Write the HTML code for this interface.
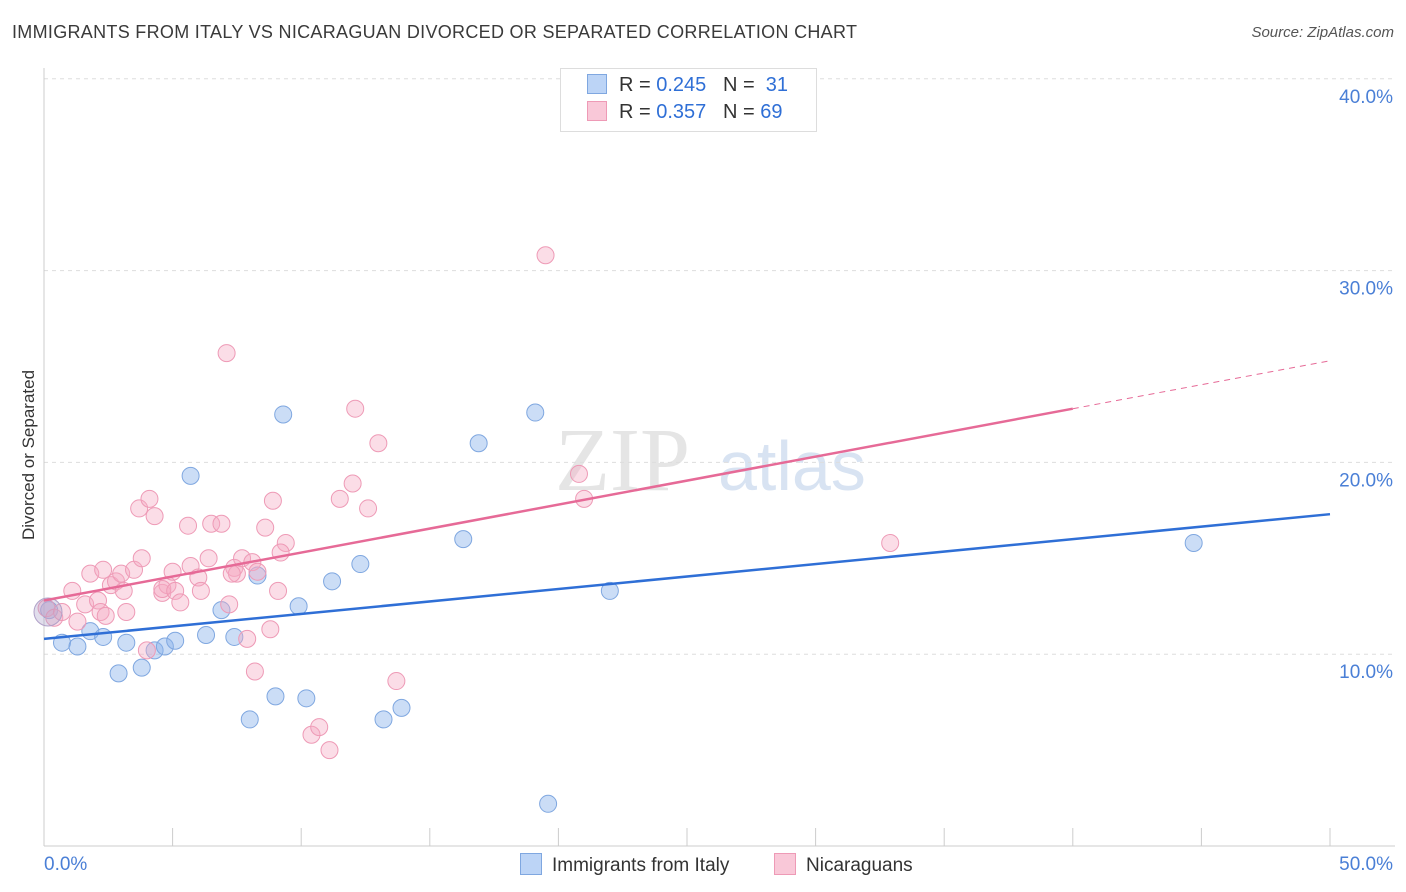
<!DOCTYPE html>
<html><head><meta charset="utf-8">
<style>
body{margin:0;background:#fff;font-family:"Liberation Sans",sans-serif;}
#wrap{position:relative;width:1406px;height:892px;overflow:hidden}
.t{position:absolute;white-space:nowrap}
</style></head>
<body>
<div id="wrap">
<div class="t" style="left:12px;top:22px;font-size:18px;color:#3a3a3a;letter-spacing:0.3px">IMMIGRANTS FROM ITALY VS NICARAGUAN DIVORCED OR SEPARATED CORRELATION CHART</div>
<div class="t" style="right:12px;top:24px;font-size:15px;color:#555;font-style:italic">Source: ZipAtlas.com</div>
<svg id="svg" width="1406" height="892" style="position:absolute;left:0;top:0"></svg>
</div>
<script>
const yTicks=[10,20,30,40];
const xTickLabels=["0.0%","50.0%"];
const italyX=[0.2,0.7,1.3,1.8,2.3,2.9,3.2,3.8,4.3,4.7,5.1,5.7,6.3,6.9,7.4,8.0,8.3,9.0,9.3,9.9,10.2,11.2,12.3,13.2,13.9,16.3,16.9,19.1,19.6,22.0,44.7];
const italyY=[12.3,10.6,10.4,11.2,10.9,9.0,10.6,9.3,10.2,10.4,10.7,19.3,11.0,12.3,10.9,6.6,14.1,7.8,22.5,12.5,7.7,13.8,14.7,6.6,7.2,16.0,21.0,22.6,2.2,13.3,15.8];
const nicX=[0.1,0.4,0.7,1.1,1.3,1.6,1.8,2.1,2.2,2.3,2.6,2.4,2.8,3.0,3.1,3.2,3.5,3.7,3.8,4.0,4.1,4.3,4.6,4.8,4.6,5.0,5.1,5.3,5.6,5.7,6.0,6.1,6.4,6.5,6.9,7.1,7.2,7.4,7.5,7.7,7.3,7.9,8.1,8.2,8.6,8.8,8.3,8.9,9.1,9.4,9.2,10.4,10.7,11.1,11.5,12.0,12.1,12.6,13.0,13.7,19.5,20.8,21.0,32.9];
const nicY=[12.4,11.9,12.2,13.3,11.7,12.6,14.2,12.8,12.2,14.4,13.6,12.0,13.8,14.2,13.3,12.2,14.4,17.6,15.0,10.2,18.1,17.2,13.2,13.6,13.4,14.3,13.3,12.7,16.7,14.6,14.0,13.3,15.0,16.8,16.8,25.7,12.6,14.5,14.2,15.0,14.2,10.8,14.8,9.1,16.6,11.3,14.3,18.0,13.3,15.8,15.3,5.8,6.2,5.0,18.1,18.9,22.8,17.6,21.0,8.6,30.8,19.4,18.1,15.8];
const svg=document.getElementById('svg');const NS='http://www.w3.org/2000/svg';
const X0=44,X1=1330,Y0=846,PY=19.18;
const sx=v=>X0+(X1-X0)*v/50, sy=v=>Y0-v*PY;
function mk(tag,attrs,name){const e=document.createElementNS(NS,tag);for(const k in attrs)e.setAttribute(k,attrs[k]);


svg.appendChild(e);return e;}
let w=mk('text',{x:555,y:490,'font-size':90,fill:'#e5e5e5','font-family':'Liberation Serif'},'watermark');w.textContent='ZIP';
w=mk('text',{x:718,y:490,'font-size':70,fill:'#d8e3f2','font-family':'Liberation Sans'},'watermark-atlas');w.textContent='atlas';
yTicks.forEach(t=>{mk('line',{x1:X0,x2:1395,y1:sy(t),y2:sy(t),stroke:'#ddd','stroke-dasharray':'4,4'},'grid-line');
const tx=mk('text',{x:1393,y:sy(t)+24,'text-anchor':'end','font-size':19,fill:'#4a7fd6'},'y-tick-label');tx.textContent=t.toFixed(1)+'%';});
mk('line',{x1:X0,x2:X0,y1:68,y2:Y0,stroke:'#ccc'},'y-axis');
mk('line',{x1:X0,x2:1395,y1:Y0,y2:Y0,stroke:'#ccc'},'x-axis');
for(let i=0;i<=10;i++){mk('line',{x1:sx(i*5),x2:sx(i*5),y1:Y0,y2:Y0-18,stroke:'#ccc'},'x-tick');}
let l=mk('text',{x:44,y:870,'font-size':19,fill:'#4a7fd6'},'x-tick-label');l.textContent=xTickLabels[0];
l=mk('text',{x:1393,y:870,'text-anchor':'end','font-size':19,fill:'#4a7fd6'},'x-tick-label');l.textContent=xTickLabels[1];
l=mk('text',{x:0,y:0,'font-size':17,fill:'#333',transform:'translate(34,455) rotate(-90)','text-anchor':'middle'},'y-axis-title');l.textContent='Divorced or Separated';
italyX.forEach((v,i)=>mk('circle',{cx:sx(v),cy:sy(italyY[i]),r:8.5,fill:'rgba(140,180,235,0.45)',stroke:'#7fa7e0','stroke-width':1},'italy-point'));
nicX.forEach((v,i)=>mk('circle',{cx:sx(v),cy:sy(nicY[i]),r:8.5,fill:'rgba(245,170,195,0.4)',stroke:'#ee9ab6','stroke-width':1},'nicaraguan-point'));
mk('circle',{cx:48,cy:612,r:14,fill:'rgba(170,160,200,0.35)',stroke:'#b0a0c8'},'cluster-point');
mk('line',{x1:sx(0),y1:sy(10.8),x2:sx(50),y2:sy(17.3),stroke:'#2f6fd6','stroke-width':2.5},'italy-trend-line');
mk('line',{x1:sx(0),y1:sy(12.8),x2:sx(40),y2:sy(22.8),stroke:'#e66a97','stroke-width':2.5},'nicaraguan-trend-line');
mk('line',{x1:sx(40),y1:sy(22.8),x2:sx(50),y2:sy(25.3),stroke:'#e66a97','stroke-width':1,'stroke-dasharray':'6,5'},'nicaraguan-trend-extension');
</script>
<div class="t" style="left:560px;top:68px;width:255px;height:62px;border:1px solid #ddd;background:#fff"></div>
<div class="t" style="left:587px;top:74px;font-size:20px;color:#333"><span style="display:inline-block;width:18px;height:18px;background:#bcd4f6;border:1px solid #7fa7e0;vertical-align:-3px;margin-right:12px"></span>R = <span style="color:#2f6fd6">0.245</span>&nbsp;&nbsp;&nbsp;N = &nbsp;<span style="color:#2f6fd6">31</span></div>
<div class="t" style="left:587px;top:101px;font-size:20px;color:#333"><span style="display:inline-block;width:18px;height:18px;background:#f9c8d8;border:1px solid #ee9ab6;vertical-align:-3px;margin-right:12px"></span>R = <span style="color:#2f6fd6">0.357</span>&nbsp;&nbsp;&nbsp;N = <span style="color:#2f6fd6">69</span></div>
<div class="t" style="left:520px;top:853px;font-size:19px;color:#333"><span style="display:inline-block;width:20px;height:20px;background:#bcd4f6;border:1px solid #7fa7e0;vertical-align:-4px;margin-right:10px"></span>Immigrants from Italy</div>
<div class="t" style="left:774px;top:853px;font-size:19px;color:#333"><span style="display:inline-block;width:20px;height:20px;background:#f9c8d8;border:1px solid #ee9ab6;vertical-align:-4px;margin-right:10px"></span>Nicaraguans</div>
</body></html>
